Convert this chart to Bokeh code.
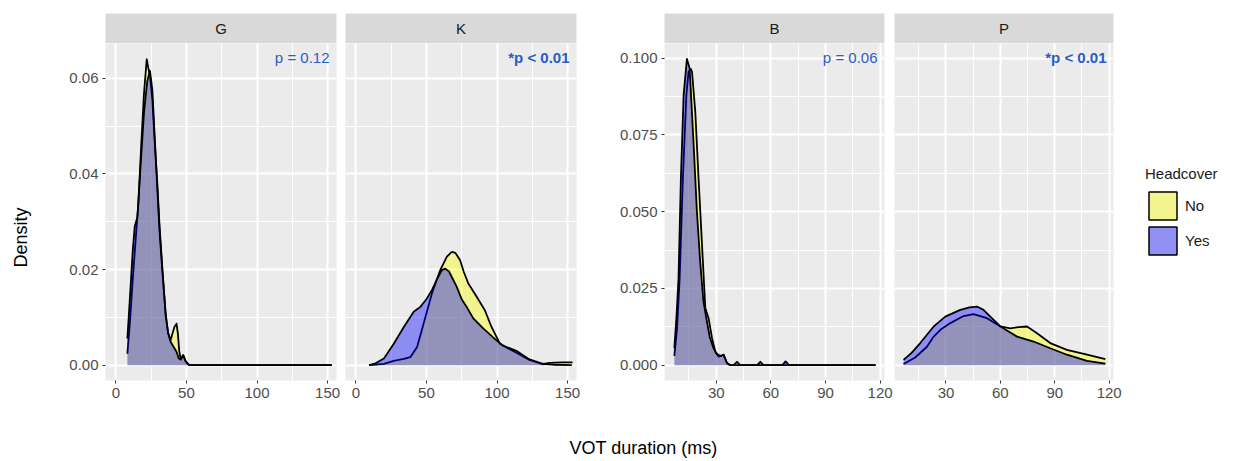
import math
from bokeh.plotting import figure
from bokeh.layouts import row, column
from bokeh.models import Range1d, FixedTicker, PrintfTickFormatter, Legend, LegendItem
from bokeh.core.properties import value
from bokeh.embed import file_html
from bokeh.resources import INLINE

# ---------------- data ----------------
panels = ["G", "K", "B", "P"]
groups = ["No", "Yes"]
legend_title = "Headcover"
p_labels = ["p = 0.12", "*p < 0.01", "p = 0.06", "*p < 0.01"]
p_bold = [False, True, False, True]
x_title = "VOT duration (ms)"
y_title = "Density"

gk_x_ticks = [0, 50, 100, 150]
gk_x_minor = [25, 75, 125]
bp_x_ticks = [30, 60, 90, 120]
bp_x_minor = [15, 45, 75, 105]
gk_y_ticks = [0.0, 0.02, 0.04, 0.06]
gk_y_minor = [0.01, 0.03, 0.05]
bp_y_ticks = [0.0, 0.025, 0.05, 0.075, 0.1]
bp_y_minor = [0.0125, 0.0375, 0.0625, 0.0875]

g_no_x = [8.2, 10, 12, 14, 16, 18, 20, 21.9, 23, 24.2, 25.9, 27.5, 29.4, 31, 32.9, 35.3, 37, 38.8, 40, 41.5, 43, 44, 44.9, 46, 47.7, 49.5, 52, 60, 153]
g_no_y = [0.0024, 0.009, 0.018, 0.026, 0.034, 0.046, 0.057, 0.064, 0.0622, 0.0605, 0.0555, 0.047, 0.038, 0.029, 0.0206, 0.0108, 0.0068, 0.0052, 0.0065, 0.008, 0.0087, 0.0065, 0.003, 0.0012, 0.0021, 0.0008, 0.0, 0.0, 0.0]
g_yes_x = [8.2, 10.6, 12, 13.4, 15.3, 17.6, 20, 22.3, 24.2, 25.9, 27.5, 29.4, 31, 32.9, 35.3, 37, 38.8, 41, 43, 44.6, 46, 47.7, 49.5, 52, 60, 153]
g_yes_y = [0.0056, 0.0171, 0.024, 0.029, 0.031, 0.042, 0.053, 0.0595, 0.0616, 0.0575, 0.048, 0.037, 0.028, 0.020, 0.0105, 0.0068, 0.0049, 0.0038, 0.0028, 0.0014, 0.0012, 0.0021, 0.0008, 0.0, 0.0, 0.0]

k_no_x = [9.4, 14, 19.9, 26.9, 34, 38.7, 43.4, 48, 53.9, 59.8, 64.5, 68, 70.5, 73.8, 76.5, 79.7, 85.6, 91.4, 96.1, 102, 106.7, 113.7, 123, 132.4, 137.1, 146.5, 153.5]
k_no_y = [0.0, 0.0001, 0.0003, 0.0009, 0.0013, 0.0017, 0.0038, 0.0087, 0.015, 0.0199, 0.0227, 0.0237, 0.0235, 0.022, 0.0195, 0.0171, 0.0143, 0.0115, 0.008, 0.0045, 0.0037, 0.0026, 0.0011, 0.0002, 0.0005, 0.0006, 0.0006]
k_yes_x = [9.4, 14, 19.9, 26.9, 34, 41, 45.7, 50, 53.9, 57.5, 61, 63.3, 66, 69.1, 71.5, 75, 78.5, 83.2, 90.2, 99.6, 104.3, 113.7, 123, 132.4, 140, 153]
k_yes_y = [0.0, 0.0004, 0.0014, 0.0045, 0.008, 0.0112, 0.0122, 0.0138, 0.0157, 0.018, 0.0199, 0.0202, 0.0196, 0.0178, 0.0164, 0.0138, 0.0122, 0.0098, 0.0077, 0.0052, 0.0041, 0.003, 0.0012, 0.0003, 0.0001, 0.0]

b_no_x = [7.0, 8.5, 9.9, 11.7, 13.6, 14.8, 16.1, 16.7, 18.5, 20.3, 22.2, 24, 25.8, 27.7, 29.5, 31.3, 32.7, 34, 35.9, 37.7, 39.5, 41.4, 43.2, 52.5, 54.2, 56, 117.5]
b_no_y = [0.003, 0.012, 0.028, 0.061, 0.088, 0.0956, 0.0965, 0.0956, 0.0826, 0.0609, 0.0392, 0.0186, 0.0153, 0.0088, 0.0044, 0.0028, 0.003, 0.0034, 0.0007, 0.0, 0.0, 0.0011, 0.0, 0.0, 0.0011, 0.0, 0.0]
b_yes_x = [7.0, 8.2, 9.3, 10.6, 12.1, 13.9, 15.4, 17.6, 19.4, 21.2, 23, 24.9, 26.5, 28.5, 30.5, 32.5, 34, 35.9, 37.7, 66.3, 68.1, 69.9, 117.5]
b_yes_y = [0.0055, 0.016, 0.0283, 0.0609, 0.088, 0.0998, 0.0967, 0.0718, 0.05, 0.0337, 0.0207, 0.0142, 0.009, 0.0055, 0.0035, 0.003, 0.0034, 0.0007, 0.0, 0.0, 0.0012, 0.0, 0.0]

p_no_x = [6.6, 13, 19.5, 23.2, 27.5, 32.4, 39.7, 45.2, 52.6, 60, 65.5, 70, 74.7, 80.2, 87.5, 96.7, 107.8, 117.9]
p_no_y = [0.0004, 0.0025, 0.006, 0.0093, 0.0118, 0.0137, 0.016, 0.0166, 0.0153, 0.0126, 0.012, 0.0124, 0.0126, 0.0104, 0.0072, 0.005, 0.0034, 0.002]
p_yes_x = [6.6, 11, 15.8, 23.2, 29.6, 37.9, 43, 47.1, 50.7, 55, 60, 65, 69.2, 78.3, 87.5, 96.7, 107.8, 117.9]
p_yes_y = [0.0017, 0.004, 0.0072, 0.0126, 0.0158, 0.018, 0.0188, 0.0191, 0.018, 0.0155, 0.0126, 0.0108, 0.0093, 0.0077, 0.0055, 0.0034, 0.0014, 0.0005]

# ---------------- styling ----------------
FONT = "Liberation Sans"
FILL = {"No": "#FFFF00", "Yes": "#0000FF"}
KEY_FILL = {"No": "#F4F48F", "Yes": "#8F8FF4"}
PCOL = "#2A5CC6"
STRIP_TOP = 13
STRIP_H = 30 + STRIP_TOP
MAIN_H = 367
TICK_FS = "15px"

gk_xr = (-7.3, 156.3)
bp_xr = (1.6, 122.4)
gk_yr = (-0.0032, 0.0673)
bp_yr = (-0.005, 0.1048)


def style_axes(p, xt, xm, yt, ym, yfmt, show_y):
    p.xaxis.ticker = FixedTicker(ticks=xt, minor_ticks=xm)
    p.yaxis.ticker = FixedTicker(ticks=yt, minor_ticks=ym)
    p.xgrid.ticker = FixedTicker(ticks=xt, minor_ticks=xm)
    p.ygrid.ticker = FixedTicker(ticks=yt, minor_ticks=ym)
    for g in (p.xgrid, p.ygrid):
        g.grid_line_color = "white"
        g.grid_line_width = 2
        g.minor_grid_line_color = "white"
        g.minor_grid_line_width = 1
    for ax in (p.xaxis, p.yaxis):
        ax.axis_line_color = None
        ax.major_tick_line_color = "#333333"
        ax.major_tick_line_width = 1
        ax.major_tick_out = 3
        ax.major_tick_in = 0
        ax.minor_tick_line_color = None
        ax.major_label_text_font = FONT
        ax.major_label_text_font_size = TICK_FS
        ax.major_label_text_color = "#4D4D4D"
    p.xaxis.major_label_standoff = 3
    p.yaxis.major_label_standoff = 3
    p.yaxis.formatter = PrintfTickFormatter(format=yfmt)
    if not show_y:
        p.yaxis.visible = False


def make_strip(label, width, mbl, mbr):
    s = figure(width=width, height=STRIP_H, x_range=Range1d(0, 1), y_range=Range1d(0, 1),
               min_border_left=mbl, min_border_right=mbr, min_border_top=STRIP_TOP, min_border_bottom=0,
               x_axis_location=None, y_axis_location=None, background_fill_color="#D9D9D9",
               border_fill_color="white", outline_line_color=None,
               toolbar_location=None, tools="", output_backend="svg")
    s.xgrid.visible = False
    s.ygrid.visible = False
    s.text(x=[0.5], y=[0.5], text=[label], text_align="center", text_baseline="middle",
           text_font=value(FONT), text_font_size="15px", text_color="#1A1A1A")
    return s


def make_panel(width, mbl, mbr, xr, yr, xt, xm, yt, ym, yfmt, show_y, series, plabel, bold):
    p = figure(width=width, height=MAIN_H, x_range=Range1d(*xr), y_range=Range1d(*yr),
               min_border_left=mbl, min_border_right=mbr, min_border_top=0, min_border_bottom=30,
               background_fill_color="#EBEBEB", border_fill_color="white", outline_line_color=None,
               toolbar_location=None, tools="", output_backend="svg")
    style_axes(p, xt, xm, yt, ym, yfmt, show_y)
    for grp, (xs, ys) in zip(groups, series):
        p.varea(x=xs, y1=[0.0] * len(xs), y2=ys, fill_color=FILL[grp], fill_alpha=0.4)
        p.line(x=xs, y=ys, line_color="black", line_width=1.8, line_join="round")
    p.text(x=[xr[1]], y=[yr[1]], text=[plabel], text_align="right", text_baseline="top",
           x_offset=-7, y_offset=5, text_font=value(FONT), text_font_size="15px",
           text_color=PCOL, text_font_style="bold" if bold else "normal")
    return p


layout_specs = [
    # width, min_border_left, min_border_right
    (285, 45, 9),
    (251, 0, 20),
    (298, 68, 10),
    (234, 0, 15),
]

series_all = [
    [(g_no_x, g_no_y), (g_yes_x, g_yes_y)],
    [(k_no_x, k_no_y), (k_yes_x, k_yes_y)],
    [(b_no_x, b_no_y), (b_yes_x, b_yes_y)],
    [(p_no_x, p_no_y), (p_yes_x, p_yes_y)],
]

cols = []
for i, name in enumerate(panels):
    w, mbl, mbr = layout_specs[i]
    if i < 2:
        xr, yr, xt, xm, yt, ym, fmt = gk_xr, gk_yr, gk_x_ticks, gk_x_minor, gk_y_ticks, gk_y_minor, "%.2f"
    else:
        xr, yr, xt, xm, yt, ym, fmt = bp_xr, bp_yr, bp_x_ticks, bp_x_minor, bp_y_ticks, bp_y_minor, "%.3f"
    show_y = (i % 2 == 0)
    strip = make_strip(name, w, mbl, mbr)
    main = make_panel(w, mbl, mbr, xr, yr, xt, xm, yt, ym, fmt, show_y, series_all[i], p_labels[i], p_bold[i])
    cols.append(column(strip, main, spacing=0))

TOTAL_H = STRIP_H + MAIN_H   # 410
YLAB_W = 60
LEG_W = 1235 - YLAB_W - sum(s[0] for s in layout_specs)  # 107

# y-axis title
ylab = figure(width=YLAB_W, height=TOTAL_H, x_range=Range1d(0, YLAB_W), y_range=Range1d(0, TOTAL_H),
              min_border=0, x_axis_location=None, y_axis_location=None, outline_line_color=None,
              toolbar_location=None, tools="", output_backend="svg")
ylab.xgrid.visible = False
ylab.ygrid.visible = False
ylab.text(x=[20], y=[TOTAL_H - 237], text=[y_title], angle=math.pi / 2, text_align="center",
          text_baseline="middle", text_font=value(FONT), text_font_size="18px", text_color="black")

# legend (keys drawn by the legend itself; the source quads lie outside the visible range)
lf = figure(width=LEG_W, height=TOTAL_H, x_range=Range1d(0, 1), y_range=Range1d(0, 1),
            min_border=0, x_axis_location=None, y_axis_location=None, outline_line_color=None,
            toolbar_location=None, tools="", output_backend="svg")
lf.xgrid.visible = False
lf.ygrid.visible = False
items = []
for grp in groups:
    r = lf.quad(left=[-3], right=[-2], top=[-2], bottom=[-3], fill_color=KEY_FILL[grp],
                line_color="black", line_width=1.5)
    items.append(LegendItem(label=grp, renderers=[r]))
leg = Legend(items=items, title=legend_title, location=(17, 152),
             glyph_width=35, glyph_height=35, label_height=35, spacing=-7,
             padding=0, margin=0, border_line_color=None, background_fill_alpha=0,
             label_standoff=5, title_standoff=6,
             label_text_font=FONT, label_text_font_size="15px", label_text_color="#1A1A1A",
             title_text_font=FONT, title_text_font_size="15px", title_text_font_style="normal",
             title_text_color="#1A1A1A")
lf.add_layout(leg)

top = row(ylab, *cols, lf, spacing=0)

XLAB_H = 461 - TOTAL_H
xlab = figure(width=1235, height=XLAB_H, x_range=Range1d(0, 1235), y_range=Range1d(0, XLAB_H),
              min_border=0, x_axis_location=None, y_axis_location=None, outline_line_color=None,
              toolbar_location=None, tools="", output_backend="svg")
xlab.xgrid.visible = False
xlab.ygrid.visible = False
xlab.text(x=[643], y=[XLAB_H - 37], text=[x_title], text_align="center", text_baseline="middle",
          text_font=value(FONT), text_font_size="18px", text_color="black")

page = column(top, xlab, spacing=0)

open("out.html", "w").write(file_html(page, INLINE))
